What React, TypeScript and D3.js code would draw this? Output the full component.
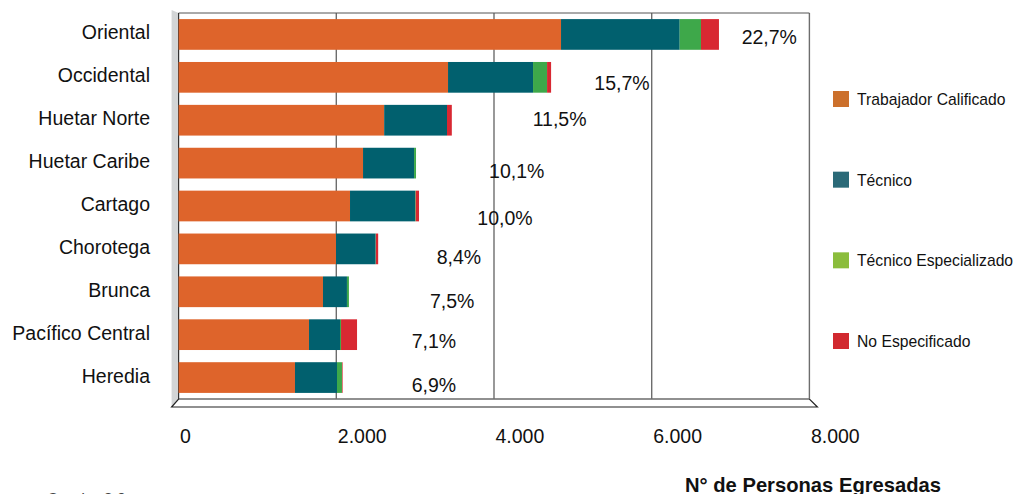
import React from 'react'
import * as d3 from 'd3'

// Regions, from top to bottom
const regions = [
  'Oriental',
  'Occidental',
  'Huetar Norte',
  'Huetar Caribe',
  'Cartago',
  'Chorotega',
  'Brunca',
  'Pacífico Central',
  'Heredia'
]

// Egresados per level
const trabajadorCalificado = [4850, 3417, 2607, 2339, 2174, 1996, 1831, 1654, 1476]
const tecnico = [1505, 1078, 797, 647, 824, 503, 304, 393, 533]
const tecnicoEspecializado = [270, 178, 0, 25, 9, 3, 25, 13, 63]
const noEspecificado = [228, 51, 61, 0, 42, 29, 0, 203, 8]

// Share of the total per region
const shares = ['22,7%', '15,7%', '11,5%', '10,1%', '10,0%', '8,4%', '7,5%', '7,1%', '6,9%']

const seriesNames = ['Trabajador Calificado', 'Técnico', 'Técnico Especializado', 'No Especificado']
const tickValues = [0, 2000, 4000, 6000, 8000]

const FONT = '"Liberation Sans", Arial, Helvetica, sans-serif'

/**
 * @class StackedBars
 *
 * One horizontal stacked bar per region, with the share annotation.
 */
class StackedBars extends React.Component<any> {
  render () {
    const { xScale, yScale } = this.props
    const barColors = ['#de642b', '#01606e', '#3ea84a', '#d82832']

    const rows = regions.map((region, i) => ({
      region,
      s0: trabajadorCalificado[i],
      s1: tecnico[i],
      s2: tecnicoEspecializado[i],
      s3: noEspecificado[i]
    }))
    const stack = d3.stack<any>().keys(['s0', 's1', 's2', 's3'])
    const layers = stack(rows)

    // annotations were placed by hand in the source chart
    const labelAt = [7141, 5272, 4491, 3937, 3788, 3273, 3188, 2956, 2956]
    const labelDy = [10, 13, 6, 15, 19, 15, 16, 13, 14]

    return (
      <g>
        {layers.map((layer, li) => (
          <g key={li} fill={barColors[li]}>
            {layer.map((d: any, i: number) => (
              <rect
                key={i}
                x={xScale(d[0])}
                y={yScale(d.data.region)}
                width={Math.max(0, xScale(d[1]) - xScale(d[0]))}
                height={yScale.bandwidth()}
              />
            ))}
          </g>
        ))}
        {shares.map((s, i) => (
          <text
            key={i}
            x={xScale(labelAt[i])}
            y={yScale(regions[i]) + yScale.bandwidth() / 2 + labelDy[i]}
            fontSize={19.5}
            fill="#111"
          >
            {s}
          </text>
        ))}
      </g>
    )
  }
}

/**
 * @class Legend
 */
class Legend extends React.Component<any> {
  render () {
    const colors = ['#cc702c', '#2b6a78', '#8bbd3c', '#d1292f']
    const legendY = d3.scalePoint().domain(seriesNames).range([99, 341])
    return (
      <g>
        {seriesNames.map((name) => (
          <g key={name} transform={`translate(833, ${legendY(name)})`}>
            <rect x={0} y={-8} width={16} height={16} fill={colors[seriesNames.indexOf(name)]} />
            <text x={24} y={6} fontSize={15.7} fill="#111">{name}</text>
          </g>
        ))}
      </g>
    )
  }
}

/**
 * @class App
 */
export default class App extends React.Component {
  render () {
    const left = 178.6
    const right = 809.4
    const top = 13
    const bottom = 399
    const depth = 7

    const xScale = d3.scaleLinear().domain([0, 8000]).range([left, right])
    const yScale = d3.scaleBand<string>()
      .domain(regions)
      .range([top, bottom])
      .paddingInner(0.284)
      .paddingOuter(0.142)

    const fmt = (v: number) => d3.format(',')(v).replace(/,/g, '.')

    return (
      <svg
        width={1016}
        height={494}
        style={{ position: 'absolute', left: 0, top: 0, background: '#fff' }}
        fontFamily={FONT}
      >
        {/* side wall */}
        <path
          d={`M${left - depth},${top - 3} L${left},${top} L${left},${bottom} L${left - depth},${bottom + 8} Z`}
          fill="#d3d5d6"
        />
        {/* floor */}
        <path
          d={`M${left},${bottom} L${right},${bottom} L${right + 8},${bottom + 8} L${left - depth},${bottom + 8} Z`}
          fill="#fff"
          stroke="#222"
          strokeWidth={1.2}
        />
        {/* gridlines */}
        {tickValues.slice(1).map((t) => (
          <line key={t} x1={xScale(t)} x2={xScale(t)} y1={top} y2={bottom} stroke="#6d6d6d" strokeWidth={1.4} />
        ))}
        <line x1={left} x2={right} y1={top} y2={top} stroke="#555" strokeWidth={1} />
        <line x1={left} x2={left} y1={top} y2={bottom} stroke="#333" strokeWidth={1.2} />

        <StackedBars xScale={xScale} yScale={yScale} />

        {/* region labels */}
        {regions.map((r) => (
          <text
            key={r}
            x={150}
            y={yScale(r)! + yScale.bandwidth() / 2 + 5}
            textAnchor="end"
            fontSize={19.5}
            fill="#111"
          >
            {r}
          </text>
        ))}

        {/* tick labels */}
        {tickValues.map((t) => (
          <text key={t} x={xScale(t) + 1.5} y={443} fontSize={19.5} fill="#111">
            {fmt(t)}
          </text>
        ))}

        <text x={685} y={492} fontSize={20.2} fontWeight="bold" fill="#111">
          N° de Personas Egresadas
        </text>

        <text x={-12} y={505} fontSize={16} fill="#444">Fuente: Cuadro 3.9</text>

        <Legend />
      </svg>
    )
  }
}
